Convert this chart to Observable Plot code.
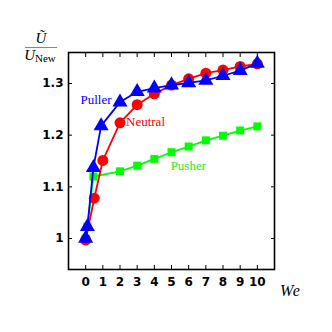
<!DOCTYPE html>
<html>
<head>
<meta charset="utf-8">
<script src="https://cdn.jsdelivr.net/npm/d3@7"></script>
<script src="https://cdn.jsdelivr.net/npm/@observablehq/plot@0.6"></script>
<style>
  html, body { margin: 0; padding: 0; background: #fff; }
  #wrap { position: relative; width: 332px; height: 332px; }
  .lab { position: absolute; font-family: "Liberation Serif", "DejaVu Serif", serif; color: #000; }
  .serieslab text { font-family: "Liberation Serif", "DejaVu Serif", serif; }
</style>
</head>
<body>
<div id="wrap"></div>
<script>
// ---- data ----
const xTicks = [0, 1, 2, 3, 4, 5, 6, 7, 8, 9, 10];
const yTicks = [1.0, 1.1, 1.2, 1.3];
const yTickLabels = ["1", "1.1", "1.2", "1.3"];

const pusherWe  = [0, 0.1, 0.45, 2, 3, 4, 5, 6, 7, 8, 9, 10];
const pusherU   = [1.0, 1.023, 1.12, 1.130, 1.141, 1.154, 1.167, 1.178, 1.190, 1.199, 1.209, 1.217];

const neutralWe = [0, 0.5, 1, 2, 3, 4, 5, 6, 7, 8, 9, 10];
const neutralU  = [0.997, 1.078, 1.151, 1.224, 1.259, 1.280, 1.297, 1.309, 1.320, 1.326, 1.333, 1.338];

const pullerWe  = [0, 0.1, 0.45, 0.9, 2, 3, 4, 5, 6, 7, 8, 9, 10];
const pullerU   = [1.0, 1.023, 1.137, 1.218, 1.264, 1.284, 1.291, 1.297, 1.301, 1.306, 1.315, 1.325, 1.339];

const seriesLabels = [
  {name: "Puller",  x: -0.3, y: 1.268, color: "#0000ff"},
  {name: "Neutral", x: 2.35, y: 1.225, color: "#ff0000"},
  {name: "Pusher",  x: 4.95, y: 1.141, color: "#22ee22"}
];

const toRows = (xs, ys) => xs.map((x, i) => ({x, y: ys[i]}));
const pusher = toRows(pusherWe, pusherU);
const neutral = toRows(neutralWe, neutralU);
const puller = toRows(pullerWe, pullerU);

const GREEN = "#00ff00", RED = "#ff0000", BLUE = "#0000ff";
const blank = () => "";
const TICKFONT = "'DejaVu Sans', 'Liberation Sans', sans-serif";

const plot = Plot.plot({
  width: 332,
  height: 332,
  marginLeft: 68,
  marginRight: 58,
  marginTop: 52,
  marginBottom: 63,
  style: {background: "#fff", overflow: "visible"},
  x: {domain: [-1, 11], label: null},
  y: {domain: [0.94, 1.36], label: null},
  marks: [
    // inward ticks on all four sides
    Plot.axisX(xTicks, {anchor: "bottom", label: null, tickSize: -4, tickFormat: blank, stroke: "#000", strokeWidth: 1}),
    Plot.axisX(xTicks, {anchor: "top", label: null, tickSize: -4, tickFormat: blank, stroke: "#000", strokeWidth: 1}),
    Plot.axisY(yTicks, {anchor: "left", label: null, tickSize: -4, tickFormat: blank, stroke: "#000", strokeWidth: 1}),
    Plot.axisY(yTicks, {anchor: "right", label: null, tickSize: -4, tickFormat: blank, stroke: "#000", strokeWidth: 1}),
    // tick labels
    Plot.axisX(xTicks, {anchor: "bottom", tickSize: 0, tickPadding: 8, label: null,
      fontFamily: TICKFONT, fontWeight: "bold", fontSize: 12, fill: "#000"}),
    Plot.axisY(yTicks, {anchor: "left", tickSize: 0, tickPadding: 5, label: null,
      tickFormat: (d) => yTickLabels[yTicks.indexOf(d)],
      fontFamily: TICKFONT, fontWeight: "bold", fontSize: 12, fill: "#000"}),
    Plot.frame({stroke: "#000", strokeWidth: 1.6}),
    // series
    Plot.line(pusher, {x: "x", y: "y", stroke: GREEN, strokeWidth: 1.8}),
    Plot.dot(pusher, {x: "x", y: "y", symbol: "square", r: 4.5, fill: GREEN, stroke: "none"}),
    Plot.line(neutral, {x: "x", y: "y", stroke: RED, strokeWidth: 1.8}),
    Plot.dot(neutral, {x: "x", y: "y", symbol: "circle", r: 5.5, fill: RED, stroke: "none"}),
    Plot.line(puller, {x: "x", y: "y", stroke: BLUE, strokeWidth: 1.8}),
    Plot.dot(puller, {x: "x", y: "y", symbol: "triangle", r: 5.6, fill: BLUE, stroke: "none"}),
    // series labels
    Plot.text(seriesLabels, {x: "x", y: "y", text: "name", fill: "color", textAnchor: "start",
      className: "serieslab", fontFamily: "'Liberation Serif', 'DejaVu Serif', serif", fontSize: 13})
  ]
});

const wrap = document.getElementById("wrap");
wrap.appendChild(plot);
d3.select(plot).selectAll(".serieslab text").style("font-family", "'Liberation Serif', 'DejaVu Serif', serif");

// y label: fraction U~ / U_New
const ylab = document.createElement("div");
ylab.className = "lab";
ylab.style.left = "25px";
ylab.style.top = "30px";
ylab.style.width = "32px";
ylab.style.textAlign = "center";
ylab.innerHTML =
  '<div style="font-style:italic;font-size:15px;line-height:16px;">\u0168</div>' +
  '<div style="border-top:1.6px solid #888;margin:1px 0 0 0;"></div>' +
  '<div style="font-size:15px;line-height:15px;white-space:nowrap;margin-left:-2px;"><i>U</i><span style="font-size:11px;position:relative;top:2px;">New</span></div>';
wrap.appendChild(ylab);

// x label
const xlab = document.createElement("div");
xlab.className = "lab";
xlab.style.left = "280px";
xlab.style.top = "282px";
xlab.style.fontStyle = "italic";
xlab.style.fontSize = "16px";
xlab.style.letterSpacing = "1px";
xlab.textContent = "We";
wrap.appendChild(xlab);
</script>
</body>
</html>
